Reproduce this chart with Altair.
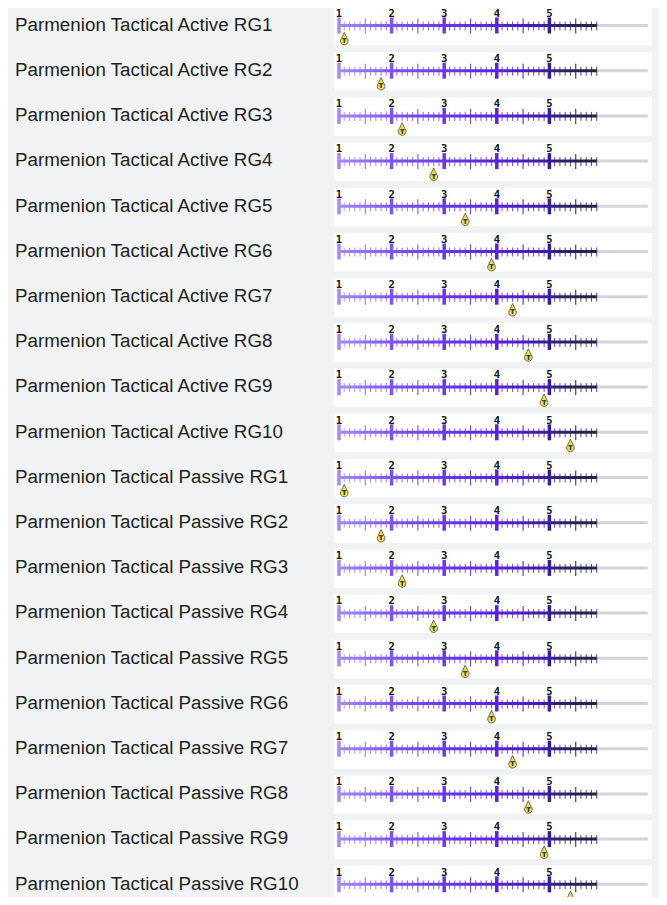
import altair as alt
import numpy as np
import pandas as pd

# ---------------- data ----------------
labels = [
    "Parmenion Tactical Active RG1", "Parmenion Tactical Active RG2",
    "Parmenion Tactical Active RG3", "Parmenion Tactical Active RG4",
    "Parmenion Tactical Active RG5", "Parmenion Tactical Active RG6",
    "Parmenion Tactical Active RG7", "Parmenion Tactical Active RG8",
    "Parmenion Tactical Active RG9", "Parmenion Tactical Active RG10",
    "Parmenion Tactical Passive RG1", "Parmenion Tactical Passive RG2",
    "Parmenion Tactical Passive RG3", "Parmenion Tactical Passive RG4",
    "Parmenion Tactical Passive RG5", "Parmenion Tactical Passive RG6",
    "Parmenion Tactical Passive RG7", "Parmenion Tactical Passive RG8",
    "Parmenion Tactical Passive RG9", "Parmenion Tactical Passive RG10",
]
values = [1.1, 1.8, 2.2, 2.8, 3.4, 3.9, 4.3, 4.6, 4.9, 5.4,
          1.1, 1.8, 2.2, 2.8, 3.4, 3.9, 4.3, 4.6, 4.9, 5.4]
major_ticks = [1, 2, 3, 4, 5]
major_labels = ["1", "2", "3", "4", "5"]
scale_start, scale_end, track_end = 1.0, 5.9, 6.87
grad_domain = [1.0, 2.0, 3.0, 4.0, 4.6, 5.0, 5.4, 5.9]
grad_colors = ["#a58af8", "#7d55f0", "#6a38ea", "#5a24da", "#4a1cb8",
               "#3a1e96", "#2a235e", "#1f2449"]

# ---------------- layout ----------------
W, H = 651, 889
PITCH, TOP0, BOX_H, AX = 45.2, -1.0, 38.5, 18.5
UNIT, X1PIX = 52.6, 331.0
x_dom = [1 - X1PIX / UNIT, 1 + (W - X1PIX) / UNIT]
xs = alt.Scale(domain=x_dom, nice=False, zero=False)
ys = alt.Scale(domain=[0, H], range=[0, H], nice=False, zero=False)
cs = alt.Scale(domain=grad_domain, range=grad_colors, interpolate="rgb")

rows_df = pd.DataFrame({"label": labels, "value": values, "i": list(range(len(labels)))})

tick_vals = np.round(np.arange(scale_start, scale_end + 0.001, 0.1), 1)
def kind(t):
    if abs(t - round(t)) < 1e-6:
        return "major"
    if abs(t * 2 - round(t * 2)) < 1e-6:
        return "medium"
    return "minor"
ticks_df = pd.DataFrame({"t": tick_vals, "kind": [kind(t) for t in tick_vals]})
ticks_df = ticks_df[ticks_df["kind"] != "major"]
maj_df = pd.DataFrame({"t": major_ticks, "tl": major_labels})

cross_ticks = rows_df.merge(ticks_df, how="cross")
cross_maj = rows_df.merge(maj_df, how="cross")

def with_pos(ch):
    return ch.transform_calculate(
        top=f"{TOP0} + {PITCH} * datum.i",
    ).transform_calculate(
        bot=f"datum.top + {BOX_H}",
        axis=f"datum.top + {AX}",
    ).transform_calculate(
        lab_y="datum.top + 23.8",
        ax_a="datum.axis - 1.5", ax_b="datum.axis + 1.5",
        mi_a="datum.axis - 4", mi_b="datum.axis + 5",
        me_a="datum.axis - 7", me_b="datum.axis + 8",
        ma_a="datum.axis - 8", ma_b="datum.axis + 8",
        num_y="datum.top + 9.8",
        mk_y="datum.axis + 13.3", mk_c="datum.axis + 15.6",
        s0=str(scale_start), s1=str(scale_end), s2=str(track_end),
        g0=str(scale_end - 0.05),
    )

base = with_pos(alt.Chart(rows_df))
tbase = with_pos(alt.Chart(cross_ticks))
mbase = with_pos(alt.Chart(cross_maj))

Y = lambda f: alt.Y(f, type="quantitative", scale=ys, axis=None)
X = lambda f: alt.X(f, type="quantitative", scale=xs, axis=None)

box = base.mark_rect(color="white").encode(
    x=alt.value(326), x2=alt.value(644), y=Y("top"), y2="bot:Q")

label = base.mark_text(align="left", baseline="alphabetic", font="Liberation Sans",
                       fontSize=18.8, color="#1e1e1e").encode(
    x=alt.value(7), y=Y("lab_y"), text="label:N")

track = base.mark_rule(color="#d4d4d8", strokeWidth=3).encode(
    x=X("g0"), x2="s2:Q", y=Y("axis"))

stops = [alt.GradientStop(color=c, offset=(d - scale_start) / (scale_end - scale_start))
         for d, c in zip(grad_domain, grad_colors)]
line = base.mark_rect(fill=alt.LinearGradient(gradient="linear", stops=stops,
                                               x1=0, x2=1, y1=0, y2=0)).encode(
    x=X("s0"), x2="s1:Q", y=Y("ax_a"), y2="ax_b:Q")

minor = tbase.transform_filter("datum.kind == 'minor'").mark_rule(
    strokeWidth=1, opacity=0.8).encode(
    x=X("t"), y=Y("mi_a"), y2="mi_b:Q",
    color=alt.Color("t:Q", scale=cs, legend=None))

medium = tbase.transform_filter("datum.kind == 'medium'").mark_rule(
    strokeWidth=1.2, opacity=0.85).encode(
    x=X("t"), y=Y("me_a"), y2="me_b:Q",
    color=alt.Color("t:Q", scale=cs, legend=None))

major = mbase.mark_rule(strokeWidth=3.5).encode(
    x=X("t"), y=Y("ma_a"), y2="ma_b:Q",
    color=alt.Color("t:Q", scale=cs, legend=None))

nums = mbase.mark_text(font="DejaVu Sans Mono", fontWeight="bold", fontSize=10.5,
                       baseline="alphabetic", align="center", color="#111111").encode(
    x=X("t"), y=Y("num_y"), text="tl:N")

PIN = "M0,-1 L0.45,-0.05 A0.6,0.6 0 1 1 -0.45,-0.05 Z"
pin = base.mark_point(shape=PIN, size=165, filled=True, fill="#f0dc55",
                      stroke="#4d4d4d", strokeWidth=0.8, opacity=1).encode(
    x=X("value"), y=Y("mk_y"))

pin_t = base.mark_text(text="T", fontSize=6.5, fontWeight="bold", font="DejaVu Sans",
                       baseline="middle", align="center", color="#222222").encode(
    x=X("value"), y=Y("mk_c"))

chart = alt.layer(box, label, track, line, minor, medium, major, nums, pin, pin_t).properties(
    width=W, height=H, background="#f1f2f4", padding=0,
    autosize=alt.AutoSizeParams(type="none"),
).configure_view(stroke=None)

chart.save("out.html", embed_options={"renderer": "svg", "actions": False})
